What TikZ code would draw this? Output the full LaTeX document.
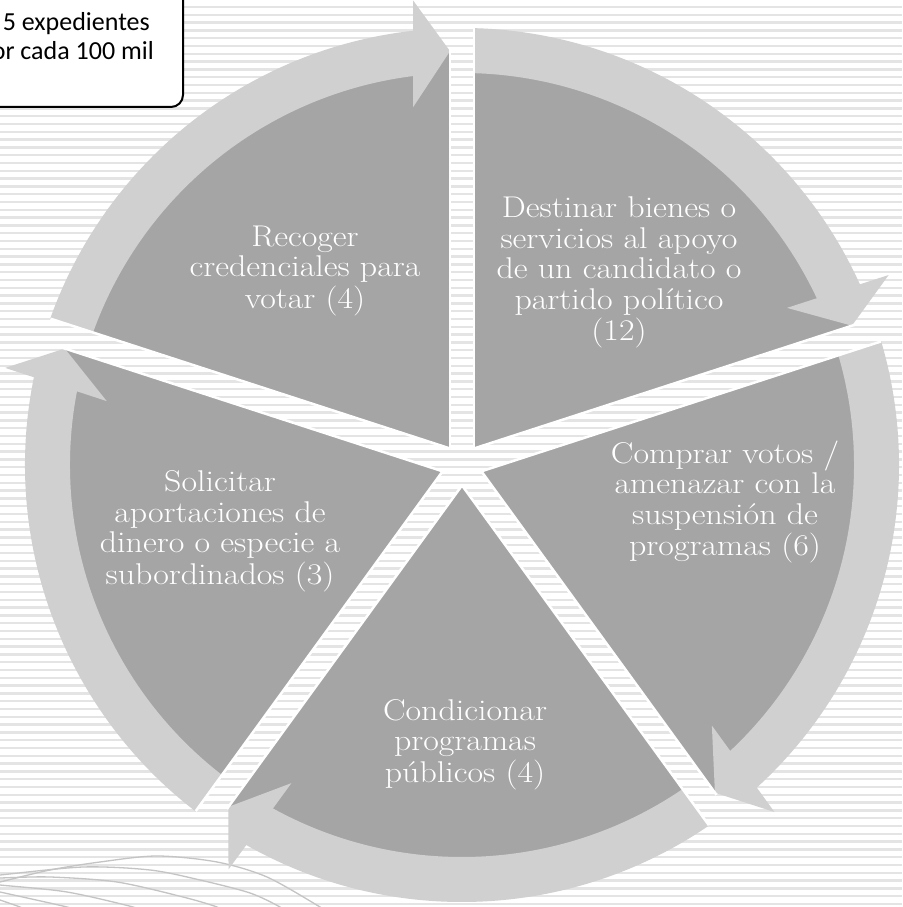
\documentclass[tikz,border=0pt]{standalone}
\usepackage{fontspec}
\newfontfamily\boxfont{Carlito}
\usetikzlibrary{calc}
\definecolor{piecol}{HTML}{A5A5A5}
\definecolor{bandcol}{HTML}{D0D0D0}
\definecolor{stripecol}{HTML}{E4E4E4}
\definecolor{wavecol}{HTML}{C4C4C4}
\newcommand{\pielines}[1]{\scalebox{1.13}[1]{\begin{tabular}{@{}c@{}}#1\end{tabular}}}
\tikzset{
  pietext/.style={text=white, font=\fontsize{30}{30.5}\selectfont, inner sep=0pt},
  boxtext/.style={font=\boxfont\fontsize{26}{29}\selectfont, inner sep=0pt, text=black},
  stripe/.style={draw=stripecol, line width=2.4pt},
  wave/.style={draw=wavecol, line width=1.3pt},
  pie/.style={fill=piecol},
  band/.style={fill=bandcol},
  gapedge/.style={draw=white, line width=2.5pt},
  notebox/.style={draw=black, line width=2pt, fill=white, rounded corners=12pt},
}
\begin{document}
\begin{tikzpicture}[x=1pt,y=1pt]
\useasboundingbox (0,0) rectangle (902,907);
\clip (0,0) rectangle (902,907);
\fill[white] (0,0) rectangle (902,907);
\foreach \i in {0,...,116} \draw[stripe] (0,{3+\i*7.8}) -- (902,{3+\i*7.8});
% waves
\draw[wave] plot[smooth] coordinates {(-5,24) (0,25) (50,37) (100,45) (157,51) (217,45) (267,30) (320,0) (326,-5)};
\draw[wave] plot[smooth] coordinates {(-5,32) (0,32) (83,40) (150,37) (200,27) (250,14) (280,0) (284,-5)};
\draw[wave] plot[smooth] coordinates {(-5,29) (0,29) (50,30) (117,25) (183,10) (217,0) (222,-5)};
\draw[wave] plot[smooth] coordinates {(-5,23) (0,22) (67,15) (133,0) (138,-4)};
\draw[wave] plot[smooth] coordinates {(-5,16) (0,15) (67,0) (72,-3)};
\draw[wave] plot[smooth] coordinates {(-5,9) (0,7) (20,0) (25,-3)};
% cycle
\coordinate (C) at (462,442);
\foreach \angA in {90,18,-54,-126,-198}{
  \pgfmathsetmacro{\angB}{\angA-72}
  \pgfmathsetmacro{\angM}{\angA-36}
  \coordinate (P) at ($(C)+(\angM:20.4)$);
  \begin{scope}
    \clip (P) -- ($(P)+(\angB:1300)$) -- ($(P)+(\angM:1300)$) -- ($(P)+(\angA:1300)$) -- cycle;
    \fill[pie] (C) circle (414);
    \fill[band] ($(C)+(\angA+5:437)$) arc[start angle=\angA+5, end angle=\angB+5, radius=437]
      -- ($(C)+(\angB+5:392)$) arc[start angle=\angB+5, end angle=\angA+5, radius=392] -- cycle;
    \fill[band] ($(C)+(\angB+1.66:414)$) -- ($(C)+(\angB+6:467)$) -- ($(C)+(\angB+7.8:361)$) -- cycle;
  \end{scope}
  \draw[gapedge] (P) -- ($(P)+(\angA:420)$);
  \draw[gapedge] (P) -- ($(P)+(\angB:400)$);
}
% texts
\node[pietext] (t1) at (305,636) {\pielines{Recoger\\credenciales para\\votar (4)}};
\node[pietext] (t2) at (619,634) {\pielines{Destinar bienes o\\servicios al apoyo\\de un candidato o\\partido político\\(12)}};
\node[pietext] (t3) at (725,404) {\pielines{Comprar votos /\\amenazar con la\\suspensión de\\programas (6)}};
\node[pietext] (t4) at (465,162) {\pielines{Condicionar\\programas\\públicos (4)}};
\node[pietext] (t5) at (220,375) {\pielines{Solicitar\\aportaciones de\\dinero o especie a\\subordinados (3)}};
% note box
\draw[notebox] (-20,800) rectangle (183,930);
\node[boxtext, anchor=base east] (n1) at (150,876.3) {5 expedientes};
\node[boxtext, anchor=base east] (n2) at (154,847.7) {or cada 100 mil};
\end{tikzpicture}
\end{document}
